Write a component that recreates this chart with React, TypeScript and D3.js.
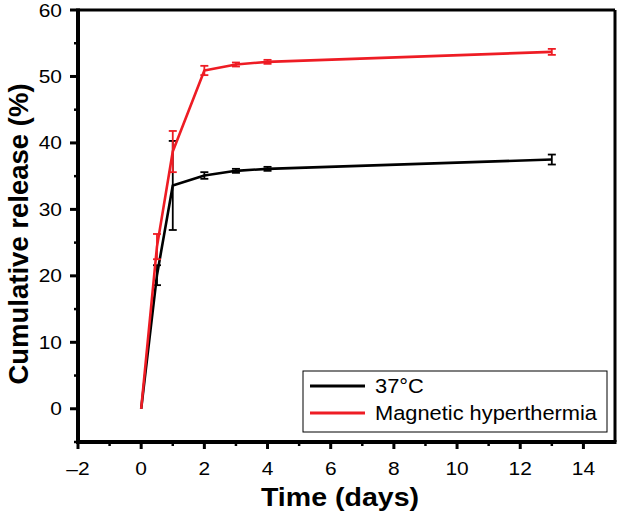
import React from "react";
import * as d3 from "d3";

const days = [0, 0.5, 1, 2, 3, 4, 13];
const release37 = [0, 20.1, 33.6, 35.1, 35.8, 36.1, 37.5];
const err37 = [0, 1.5, 6.7, 0.5, 0.3, 0.3, 0.75];
const releaseMH = [0, 24.4, 38.7, 50.9, 51.8, 52.2, 53.7];
const errMH = [0, 1.9, 3.1, 0.7, 0.3, 0.3, 0.45];
const xTicks = [-2, 0, 2, 4, 6, 8, 10, 12, 14];
const xMinor = [-1, 1, 3, 5, 7, 9, 11, 13];
const yTicks = [0, 10, 20, 30, 40, 50, 60];
const yMinor = [-5, 5, 15, 25, 35, 45, 55];
const seriesNames = ["37\u00b0C", "Magnetic hyperthermia"];
const seriesColors = ["#000000", "#ee1c24"];

const W = 620, H = 518;
const L = 78, R = 615, T = 10, B = 442;
const font = "Liberation Sans, Arial, sans-serif";
const SX = 1.12;

function SText(props: { x: number; y: number; anchor?: string; size: number; bold?: boolean; children: React.ReactNode }) {
  return (
    <text
      transform={`translate(${props.x},${props.y}) scale(${SX},1)`}
      textAnchor={props.anchor || "start"}
      dy="0.35em"
      fontFamily={font}
      fontSize={props.size}
      fontWeight={props.bold ? "bold" : "normal"}
    >
      {props.children}
    </text>
  );
}

export default function App() {
  const x = d3.scaleLinear().domain([-2, 15]).range([L, R]);
  const y = d3.scaleLinear().domain([-5, 60]).range([B, T]);
  const line = d3.line<[number, number]>().x(d => x(d[0])).y(d => y(d[1]));
  const series = [
    { vals: release37, errs: err37 },
    { vals: releaseMH, errs: errMH },
  ];
  const fmt = (v: number) => (v < 0 ? "\u2013" + Math.abs(v) : String(v));
  return (
    <svg width={W} height={H} style={{ position: "absolute", left: 0, top: 0, background: "#fff" }}>
      <rect x={0} y={0} width={W} height={H} fill="#fff" />
      {series.map((s, i) => {
        const pts = days.map((d, j) => [d, s.vals[j]] as [number, number]);
        return (
          <g key={i}>
            <path d={line(pts) || ""} fill="none" stroke={seriesColors[i]} strokeWidth={2.6} strokeLinejoin="round" />
            {days.map((d, j) =>
              s.errs[j] > 0 ? (
                <g key={j} stroke={seriesColors[i]} strokeWidth={1.8}>
                  <line x1={x(d)} x2={x(d)} y1={y(s.vals[j] - s.errs[j])} y2={y(s.vals[j] + s.errs[j])} />
                  <line x1={x(d) - 4} x2={x(d) + 4} y1={y(s.vals[j] - s.errs[j])} y2={y(s.vals[j] - s.errs[j])} />
                  <line x1={x(d) - 4} x2={x(d) + 4} y1={y(s.vals[j] + s.errs[j])} y2={y(s.vals[j] + s.errs[j])} />
                </g>
              ) : null
            )}
          </g>
        );
      })}
      {/* frame */}
      <line x1={L} x2={R} y1={T} y2={T} stroke="#000" strokeWidth={3} />
      <line x1={R} x2={R} y1={T} y2={B} stroke="#000" strokeWidth={3} />
      <line x1={L} x2={L} y1={T - 1.5} y2={B + 2} stroke="#000" strokeWidth={4} />
      <line x1={L - 2} x2={R + 1.5} y1={B} y2={B} stroke="#000" strokeWidth={4} />
      {/* y ticks */}
      {yTicks.map(v => (
        <g key={v}>
          <line x1={L - 8} x2={L} y1={y(v)} y2={y(v)} stroke="#000" strokeWidth={3} />
          <SText x={L - 16} y={y(v)} anchor="end" size={18.7}>{fmt(v)}</SText>
        </g>
      ))}
      {yMinor.map(v => (
        <line key={v} x1={L - 4} x2={L} y1={y(v)} y2={y(v)} stroke="#000" strokeWidth={2.5} />
      ))}
      {/* x ticks */}
      {xTicks.map(v => (
        <g key={v}>
          <line x1={x(v)} x2={x(v)} y1={B} y2={B + 7} stroke="#000" strokeWidth={3} />
          <SText x={x(v)} y={468} anchor="middle" size={18.7}>{fmt(v)}</SText>
        </g>
      ))}
      {xMinor.map(v => (
        <line key={v} x1={x(v)} x2={x(v)} y1={B} y2={B + 4} stroke="#000" strokeWidth={2.5} />
      ))}
      {/* axis titles */}
      <SText x={340} y={497} anchor="middle" size={25.5} bold>Time (days)</SText>
      <text
        transform={`translate(28,234) rotate(-90)`}
        textAnchor="middle"
        fontFamily={font}
        fontWeight="bold"
        fontSize={27.5}
      >
        Cumulative release (%)
      </text>
      {/* legend */}
      <g>
        <rect x={303} y={371} width={304} height={61} fill="#fff" stroke="#000" strokeWidth={1} />
        {seriesNames.map((n, i) => (
          <g key={n}>
            <line x1={310} x2={365} y1={386 + i * 27} y2={386 + i * 27} stroke={seriesColors[i]} strokeWidth={3} />
            <SText x={375} y={386 + i * 27} size={19.5}>{n}</SText>
          </g>
        ))}
      </g>
    </svg>
  );
}
